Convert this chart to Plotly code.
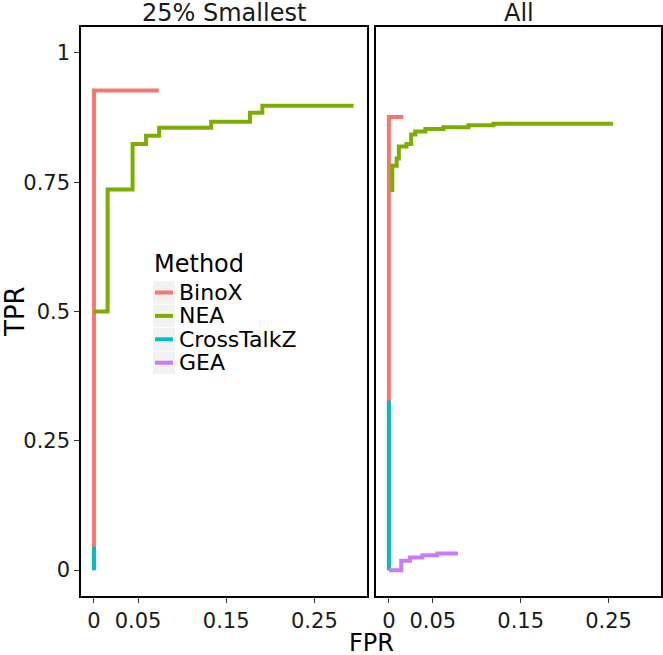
import plotly.graph_objects as go

methods = ["BinoX", "NEA", "CrossTalkZ", "GEA"]
colors = {"BinoX": "#F8766D", "NEA": "#7CAE00", "CrossTalkZ": "#00BFC4", "GEA": "#C77CFF"}
panels = ["25% Smallest", "All"]
legend_title = "Method"
x_title = "FPR"
y_title = "TPR"

# step-curve vertices (FPR, TPR), drawn with horizontal-then-vertical steps
small_fpr = {
    "BinoX": [0, 0, 0.0736],
    "NEA": [0, 0.0155, 0.0438, 0.059, 0.074, 0.133, 0.177, 0.191, 0.2945],
    "CrossTalkZ": [0, 0],
    "GEA": [0],
}
small_tpr = {
    "BinoX": [0, 0.927, 0.927],
    "NEA": [0.5, 0.736, 0.824, 0.840, 0.855, 0.867, 0.884, 0.898, 0.898],
    "CrossTalkZ": [0, 0.045],
    "GEA": [0],
}
all_fpr = {
    "BinoX": [0, 0, 0.0163],
    "NEA": [0.0038, 0.0038, 0.0088, 0.0113, 0.020, 0.0253, 0.030, 0.0415, 0.062, 0.0905, 0.119, 0.255],
    "CrossTalkZ": [0, 0, 0.002],
    "GEA": [0, 0.014, 0.024, 0.038, 0.055, 0.0785],
}
all_tpr = {
    "BinoX": [0, 0.876, 0.876],
    "NEA": [0.731, 0.782, 0.796, 0.819, 0.824, 0.842, 0.848, 0.853, 0.856, 0.860, 0.863, 0.863],
    "CrossTalkZ": [0, 0.324, 0.324],
    "GEA": [0, 0.018, 0.0245, 0.029, 0.032, 0.032],
}

x_ticks = [0, 0.05, 0.15, 0.25]
x_labels = ["0", "0.05", "0.15", "0.25"]
y_ticks = [0, 0.25, 0.5, 0.75, 1]
y_labels = ["0", "0.25", "0.5", "0.75", "1"]

W, H = 663, 655
FONT = "DejaVu Sans"


def px(x):
    return x / W


def py(y):
    return 1 - y / H


fig = go.Figure()
for m in methods:
    fig.add_trace(go.Scatter(x=small_fpr[m], y=small_tpr[m], mode="lines", line_shape="hv",
                             line=dict(color=colors[m], width=4), name=m,
                             showlegend=False, xaxis="x", yaxis="y"))
for m in methods:
    fig.add_trace(go.Scatter(x=all_fpr[m], y=all_tpr[m], mode="lines", line_shape="hv",
                             line=dict(color=colors[m], width=4), name=m,
                             showlegend=False, xaxis="x2", yaxis="y2"))

ydom = [py(596), py(27)]
axis_common = dict(showgrid=False, zeroline=False, showline=True, mirror=True,
                   linecolor="black", linewidth=1.5, ticklen=5, automargin=False,
                   tickcolor="#333333", tickwidth=1.2,
                   tickfont=dict(family=FONT, size=21, color="#1a1a1a"))
xr = [-0.0147, 0.3097]
yr = [-0.05, 1.05]
fig.update_layout(
    width=W, height=H, margin=dict(l=0, r=0, t=0, b=0),
    plot_bgcolor="white", paper_bgcolor="white", showlegend=False,
    xaxis=dict(domain=[px(81), px(367)], range=xr, tickvals=x_ticks, ticktext=x_labels,
               anchor="y", ticks="outside", **axis_common),
    yaxis=dict(domain=ydom, range=yr, tickvals=y_ticks, ticktext=y_labels, anchor="x",
               ticks="outside", **axis_common),
    xaxis2=dict(domain=[px(376), px(661)], range=xr, tickvals=x_ticks, ticktext=x_labels,
                anchor="y2", ticks="outside", **axis_common),
    yaxis2=dict(domain=ydom, range=yr, tickvals=y_ticks, showticklabels=False, anchor="x2",
                ticks="", **axis_common),
)

# facet strip titles
for name, cx in zip(panels, [(81 + 367) / 2, (376 + 661) / 2]):
    fig.add_annotation(text=name, xref="paper", yref="paper", x=px(cx), y=py(13),
                       showarrow=False, xanchor="center", yanchor="middle",
                       font=dict(family=FONT, size=24, color="#1a1a1a"))
# axis titles
fig.add_annotation(text=x_title, xref="paper", yref="paper", x=px(371), y=py(643),
                   showarrow=False, xanchor="center", yanchor="middle",
                   font=dict(family=FONT, size=24, color="black"))
fig.add_annotation(text=y_title, xref="paper", yref="paper", x=px(15), y=py(312),
                   showarrow=False, xanchor="center", yanchor="middle", textangle=-90,
                   font=dict(family=FONT, size=26, color="black"))

# legend (ggplot-style, drawn inside the left panel)
fig.add_annotation(text=legend_title, xref="paper", yref="paper", x=px(152), y=py(264),
                   showarrow=False, xanchor="left", yanchor="middle",
                   font=dict(family=FONT, size=24, color="black"))
row0, step = 292.5, 23.4
for i, m in enumerate(methods):
    cy = row0 + i * step
    fig.add_shape(type="rect", xref="paper", yref="paper", x0=px(153), x1=px(175),
                  y0=py(cy - step / 2 + 0.5), y1=py(cy + step / 2 - 0.5),
                  fillcolor="#F2F2F2", line=dict(width=0), layer="above")
    fig.add_shape(type="line", xref="paper", yref="paper", x0=px(155), x1=px(173),
                  y0=py(cy), y1=py(cy), line=dict(color=colors[m], width=4), layer="above")
    fig.add_annotation(text=m, xref="paper", yref="paper", x=px(177), y=py(cy),
                       showarrow=False, xanchor="left", yanchor="middle",
                       font=dict(family=FONT, size=22, color="black"))

fig.write_html("out.html", config={"displayModeBar": False},
               post_script="document.body.style.margin='0';document.body.style.overflow='hidden';")
